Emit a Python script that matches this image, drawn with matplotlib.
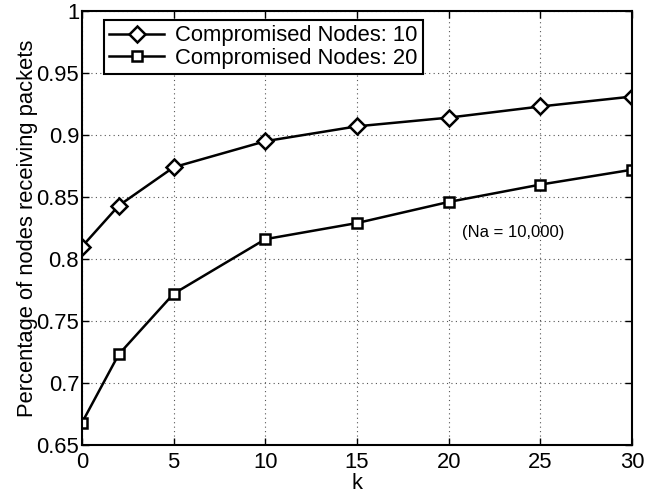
import matplotlib
matplotlib.use("Agg")
import matplotlib.pyplot as plt

plt.rcParams['font.family'] = ['Liberation Sans', 'DejaVu Sans']

k = [0, 2, 5, 10, 15, 20, 25, 30]
nodes10 = [0.810, 0.843, 0.874, 0.895, 0.907, 0.914, 0.923, 0.931]
nodes20 = [0.668, 0.723, 0.772, 0.816, 0.829, 0.846, 0.860, 0.872]
labels = ["Compromised Nodes: 10", "Compromised Nodes: 20"]
xticks = [0, 5, 10, 15, 20, 25, 30]
yticks = [0.65, 0.7, 0.75, 0.8, 0.85, 0.9, 0.95, 1.0]
yticklabels = ["0.65", "0.7", "0.75", "0.8", "0.85", "0.9", "0.95", "1"]

FS = 15.8
fig = plt.figure(figsize=(6.59, 4.96), dpi=100)
ax = fig.add_axes([82/659, 1-445/496, 550/659, 434/496])

ax.plot(k, nodes10, color='black', lw=1.8, marker='D', ms=8, mfc='white', mec='black', mew=1.8, label=labels[0])
ax.plot(k, nodes20, color='black', lw=1.8, marker='s', ms=7, mfc='white', mec='black', mew=1.8, label=labels[1])

ax.set_xlim(0, 30)
ax.set_ylim(0.65, 1.0)
ax.set_xticks(xticks)
ax.set_yticks(yticks)
ax.set_yticklabels(yticklabels)
ax.tick_params(direction='in', top=True, right=True, labelsize=FS, length=5, width=1)
ax.tick_params(axis='x', pad=5)
ax.tick_params(axis='y', pad=2)
ax.grid(True, linestyle=(0, (1, 3)), color='#555555', lw=0.8)
for s in ax.spines.values():
    s.set_linewidth(1.5)

ax.set_xlabel("k", fontsize=FS, labelpad=0)
ax.set_ylabel("Percentage of nodes receiving packets", fontsize=FS, labelpad=-1)
ax.text(23.5, 0.821, "(Na = 10,000)", fontsize=12, ha='center', va='center')

leg = ax.legend(loc='upper left', bbox_to_anchor=(22/550, 1-9/434), fontsize=FS, frameon=True,
                fancybox=False, edgecolor='black', framealpha=1, borderpad=0.25,
                labelspacing=0.05, handlelength=2.5, handletextpad=0.5, borderaxespad=0)
leg.get_frame().set_linewidth(1.5)

fig.savefig("out.png", dpi=100)
